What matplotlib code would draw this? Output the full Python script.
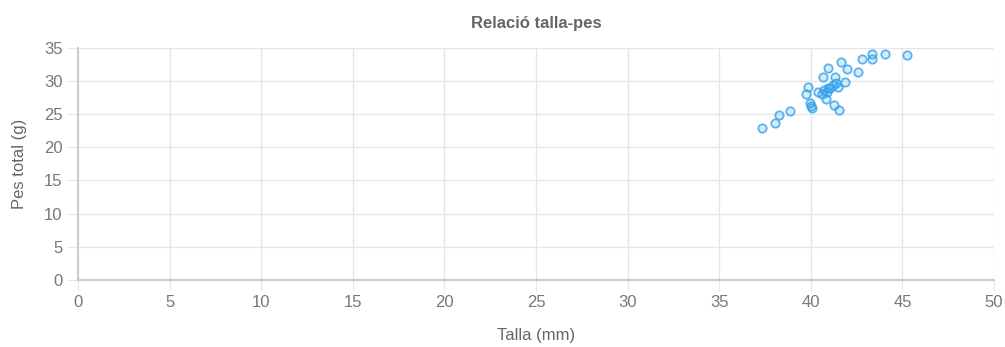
import matplotlib
matplotlib.use("Agg")
import matplotlib.pyplot as plt

plt.rcParams['font.family'] = ['Liberation Sans', 'DejaVu Sans']

talla = [37.35, 38.06, 38.26, 38.88, 39.84, 39.75, 39.93, 40.08, 40.0, 40.39, 40.66, 40.93,
         40.7, 40.81, 40.88, 41.06, 41.3, 41.39, 41.48, 41.25, 41.52, 41.66, 41.84, 41.97,
         42.57, 42.79, 43.35, 43.35, 44.06, 45.26, 40.6, 41.2, 40.95]
pes = [22.84, 23.68, 24.84, 25.44, 29.1, 28.0, 26.6, 25.84, 26.2, 28.35, 30.5, 31.86,
       28.6, 27.2, 28.35, 28.85, 30.5, 29.6, 29.1, 26.3, 25.6, 32.86, 29.85, 31.76,
       31.36, 33.27, 34.0, 33.27, 33.97, 33.87, 28.0, 29.3, 28.9]

x_ticks = list(range(0, 55, 5))
y_ticks = list(range(0, 40, 5))

fig = plt.figure(figsize=(10.05, 3.47), dpi=100)
ax = fig.add_axes([78/1005, 1-280/347, (994-78)/1005, (280-47.5)/347])

ax.scatter(talla, pes, s=36, facecolor=(54/255, 162/255, 235/255, 0.2),
           edgecolor=(54/255, 162/255, 235/255, 0.8), linewidth=1.3, zorder=3)

ax.set_xlim(0, 50)
ax.set_ylim(0, 35)
ax.set_xticks(x_ticks)
ax.set_yticks(y_ticks)
ax.grid(True, color="#e6e6e6", linewidth=1)
ax.set_axisbelow(True)
for s in ["top", "right"]:
    ax.spines[s].set_visible(False)
for s in ["left", "bottom"]:
    ax.spines[s].set_color("#cccccc")
    ax.spines[s].set_linewidth(1.5)
ax.tick_params(colors="#666666", labelsize=12, length=8, color="#e6e6e6", pad=3)
for lbl in ax.get_xticklabels() + ax.get_yticklabels():
    lbl.set_color("#777777")

ax.set_title("Relació talla-pes", fontsize=12, fontweight="bold", color="#666666", pad=14)
ax.set_xlabel("Talla (mm)", fontsize=12, color="#666666", labelpad=13)
ax.set_ylabel("Pes total (g)", fontsize=12, color="#666666", labelpad=12)

fig.savefig("out.png", dpi=100)
